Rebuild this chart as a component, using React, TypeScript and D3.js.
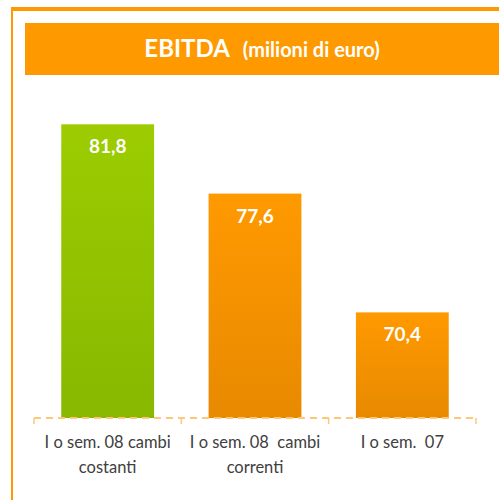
import React from "react";
import * as d3 from "d3";

const categories: string[][] = [
  ["I o sem. 08 cambi", "costanti"],
  ["I o sem. 08  cambi", "correnti"],
  ["I o sem.  07"],
];
const values: number[] = [81.8, 77.6, 70.4];
const valueLabels: string[] = ["81,8", "77,6", "70,4"];
const barKinds: string[] = ["green", "orange", "orange"];
const titleMain = "EBITDA";
const titleSub = "(milioni di euro)";

export default function App() {
  const W = 499, H = 500;
  const x = d3.scaleBand<number>().domain(values.map((_, i) => i)).range([34, 476]).paddingInner(0).paddingOuter(0);
  const y = d3.scaleLinear().domain([64, 84]).range([418, 88]);
  const bw = x.bandwidth() * 0.63;
  const ticks = [...values.map((_, i) => x(i) as number), 476];
  const font = "Lato, 'Open Sans', sans-serif";
  return (
    <svg width={W} height={H} style={{ position: "absolute", left: 0, top: 0 }}>
      <defs>
        <linearGradient id="gGreen" x1="0" y1="0" x2="0" y2="1">
          <stop offset="0" stopColor="#9ccc00" />
          <stop offset="1" stopColor="#88b800" />
        </linearGradient>
        <linearGradient id="gOrange" x1="0" y1="0" x2="0" y2="1">
          <stop offset="0" stopColor="#ff9900" />
          <stop offset="1" stopColor="#e88a00" />
        </linearGradient>
      </defs>
      <rect x={0} y={0} width={W} height={H} fill="#ffffff" />
      <rect x={11} y={7} width={W} height={4} fill="#ff9900" />
      <rect x={11} y={7} width={2} height={H} fill="#ff9900" />
      <rect x={25} y={23} width={W - 25} height={52} fill="#ff9900" />
      <text x={262} y={57} textAnchor="middle" fill="#ffffff" fontFamily={font} fontWeight="bold">
        <tspan fontSize={24}>{titleMain}</tspan>
        <tspan fontSize={20} dx={13}>{titleSub}</tspan>
      </text>
      {values.map((v, i) => {
        const cx = (x(i) as number) + x.bandwidth() / 2;
        return (
          <g key={i}>
            <rect x={cx - bw / 2} y={y(v)} width={bw} height={y(64) - y(v)} fill={barKinds[i] === "green" ? "url(#gGreen)" : "url(#gOrange)"} />
            <text x={cx} y={y(v) + 29} textAnchor="middle" fill="#ffffff" fontFamily={font} fontWeight="bold" fontSize={19}>{valueLabels[i]}</text>
            {categories[i].map((line, j) => (
              <text key={j} x={cx} y={448 + j * 25} textAnchor="middle" fill="#404040" fontFamily={font} fontSize={16.5} style={{ whiteSpace: "pre" }}>{line}</text>
            ))}
          </g>
        );
      })}
      <line x1={34} x2={476} y1={418} y2={418} stroke="#ffc878" strokeWidth={2} strokeDasharray="7,5" />
      {ticks.map((t, i) => (
        <line key={i} x1={t} x2={t} y1={418} y2={424} stroke="#ffc878" strokeWidth={1.5} />
      ))}
    </svg>
  );
}
